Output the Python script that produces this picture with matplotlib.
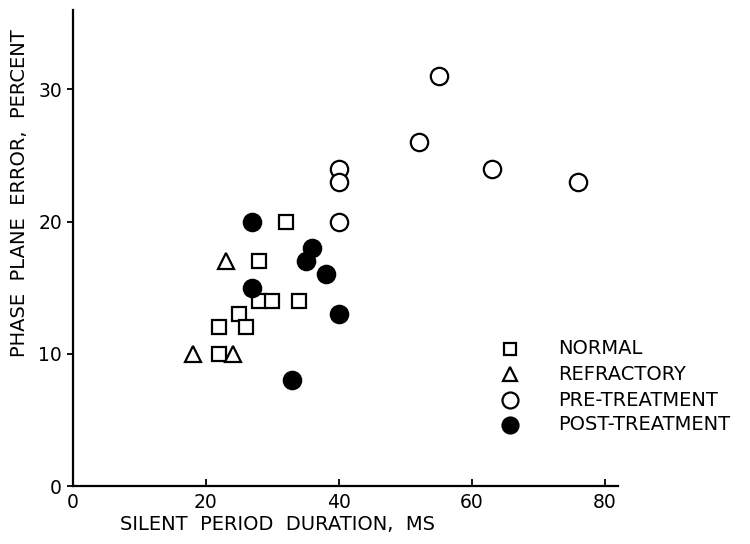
import matplotlib
matplotlib.use("Agg")
import matplotlib.pyplot as plt

normal_x = [22, 22, 25, 26, 28, 30, 34, 28, 32]
normal_y = [10, 12, 13, 12, 14, 14, 14, 17, 20]
refr_x = [18, 24, 23]
refr_y = [10, 10, 17]
pre_x = [40, 40, 40, 55, 52, 63, 76]
pre_y = [24, 23, 20, 31, 26, 24, 23]
post_x = [27, 36, 35, 38, 27, 40, 33]
post_y = [20, 18, 17, 16, 15, 13, 8]

x_ticks = [0, 20, 40, 60, 80]
y_ticks = [0, 10, 20, 30]
legend_labels = ["NORMAL", "REFRACTORY", "PRE-TREATMENT", "POST-TREATMENT"]

plt.rcParams['font.family'] = ['DejaVu Sans']
fig = plt.figure(figsize=(7.5, 5.44), dpi=100)
ax = fig.add_axes([73/750, 58/544, (618-73)/750, (486-10)/544])
ax.set_xlim(0, 82)
ax.set_ylim(0, 36)
for s in ['top', 'right']:
    ax.spines[s].set_visible(False)
for s in ['left', 'bottom']:
    ax.spines[s].set_linewidth(1.6)

ax.plot(normal_x, normal_y, 's', ms=10, mfc='white', mec='black', mew=1.6, clip_on=False)
ax.plot(refr_x, refr_y, '^', ms=11, mfc='white', mec='black', mew=1.6, clip_on=False)
ax.plot(pre_x, pre_y, 'o', ms=12.5, mfc='white', mec='black', mew=1.6, clip_on=False)
ax.plot(post_x, post_y, 'o', ms=12.5, mfc='black', mec='black', mew=1.6, clip_on=False)

ax.set_xticks(x_ticks)
ax.set_yticks(y_ticks)
ax.set_xticklabels([str(v) for v in x_ticks], fontsize=13.5)
ax.set_yticklabels([str(v) for v in y_ticks], fontsize=13.5)
ax.tick_params(axis='x', direction='in', length=5, width=1.3, pad=5)
ax.tick_params(axis='y', direction='out', length=4, width=1.3, pad=4)

fig.text(278/750, 1 - 525/544, "SILENT  PERIOD  DURATION,  MS", ha='center', va='center', fontsize=14)
fig.text(20/750, 1 - 193/544, "PHASE  PLANE  ERROR,  PERCENT", ha='center', va='center', rotation=90, fontsize=14)

# legend drawn manually
markers = [('s', 'white', 9), ('^', 'white', 10), ('o', 'white', 11.5), ('o', 'black', 11.5)]
rows_y = [349, 374, 400, 425]
for (m, fc, ms), lab, ry in zip(markers, legend_labels, rows_y):
    fig.lines.append(matplotlib.lines.Line2D([510/750], [1 - ry/544], marker=m, ms=ms, mfc=fc,
                                             mec='black', mew=1.6, linestyle='none',
                                             transform=fig.transFigure))
    fig.text(558/750, 1 - ry/544, lab, ha='left', va='center', fontsize=14)

fig.savefig("out.png", dpi=100)
